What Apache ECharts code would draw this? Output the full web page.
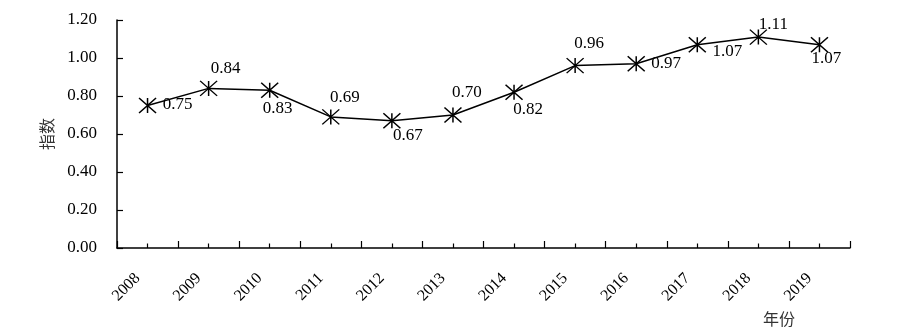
<!DOCTYPE html>
<html>
<head>
<meta charset="utf-8">
<script src="https://cdn.jsdelivr.net/npm/echarts@6/dist/echarts.min.js"></script>
<style>
  html, body { margin: 0; padding: 0; background: #fff; }
  #chart { width: 898px; height: 334px; }
</style>
</head>
<body>
<div id="chart"></div>
<script>
// Annual index, 2008-2019
const years = ['2008', '2009', '2010', '2011', '2012', '2013', '2014', '2015', '2016', '2017', '2018', '2019'];
const indexValues = [0.75, 0.84, 0.83, 0.69, 0.67, 0.70, 0.82, 0.96, 0.97, 1.07, 1.11, 1.07];
const yTicks = [0, 0.2, 0.4, 0.6, 0.8, 1.0, 1.2];

// Per-point label offsets (relative to the marker centre)
const labelOffsets = [
  [30, -1], [17, -20], [8, 18], [14, -19], [16, 15], [14, -22],
  [14, 17], [14, -22], [30, 0], [30, 7], [15, -13], [7, 14]
];

const serif = '"Liberation Serif", "Times New Roman", serif';
const cjk = '"Noto Sans CJK SC", sans-serif';

// Six-armed asterisk marker
const asterisk = 'path://M0,0 L16,14 M16,0 L0,14 M8,0 L8,14';

const chart = echarts.init(document.getElementById('chart'));
chart.setOption({
  animation: false,
  grid: { left: 117, right: 48, top: 20, bottom: 86 },
  xAxis: [
    {
      type: 'category',
      data: years,
      boundaryGap: true,
      axisLine: { show: true, lineStyle: { color: '#000', width: 1.5 } },
      // ticks point up into the plot
      axisTick: { show: true, inside: false, length: -7, lineStyle: { color: '#000', width: 1.2 } },
      axisLabel: {
        rotate: 45, margin: 18, color: '#000',
        fontFamily: serif, fontSize: 16, interval: 0,
        padding: [0, 14, 0, 0]
      }
    },
    {
      type: 'category',
      data: years,
      boundaryGap: true,
      position: 'bottom',
      axisLine: { show: false },
      axisTick: { show: true, alignWithLabel: true, inside: false, length: -4.5, lineStyle: { color: '#000', width: 1.2 } },
      axisLabel: { show: false }
    }
  ],
  yAxis: {
    type: 'value',
    min: yTicks[0],
    max: yTicks[yTicks.length - 1],
    interval: yTicks[1] - yTicks[0],
    name: '指数',
    nameLocation: 'middle',
    nameGap: 62,
    nameTextStyle: { fontFamily: cjk, fontSize: 16, color: '#333' },
    axisLine: { show: true, lineStyle: { color: '#000', width: 1.5 } },
    axisTick: { show: true, inside: false, length: -6, lineStyle: { color: '#000', width: 1.2 } },
    splitLine: { show: false },
    axisLabel: {
      margin: 20, color: '#000', fontFamily: serif, fontSize: 17,
      formatter: v => v.toFixed(2)
    }
  },
  graphic: [
    {
      type: 'text',
      left: 763, top: 311,
      style: { text: '年份', font: '16px "Noto Sans CJK SC", sans-serif', fill: '#333' }
    }
  ],
  series: [
    {
      type: 'line',
      xAxisIndex: 0,
      data: indexValues.map((v, i) => ({
        value: v,
        label: { offset: labelOffsets[i] }
      })),
      symbol: asterisk,
      symbolSize: [17, 15],
      showAllSymbol: true,
      lineStyle: { color: '#000', width: 1.5 },
      itemStyle: { color: 'rgba(0,0,0,0)', borderColor: '#000', borderWidth: 1.4 },
      label: {
        show: true,
        position: 'inside',
        color: '#000',
        fontFamily: serif,
        fontSize: 17,
        formatter: p => p.value.toFixed(2)
      },
      z: 3
    }
  ]
});
</script>
</body>
</html>
